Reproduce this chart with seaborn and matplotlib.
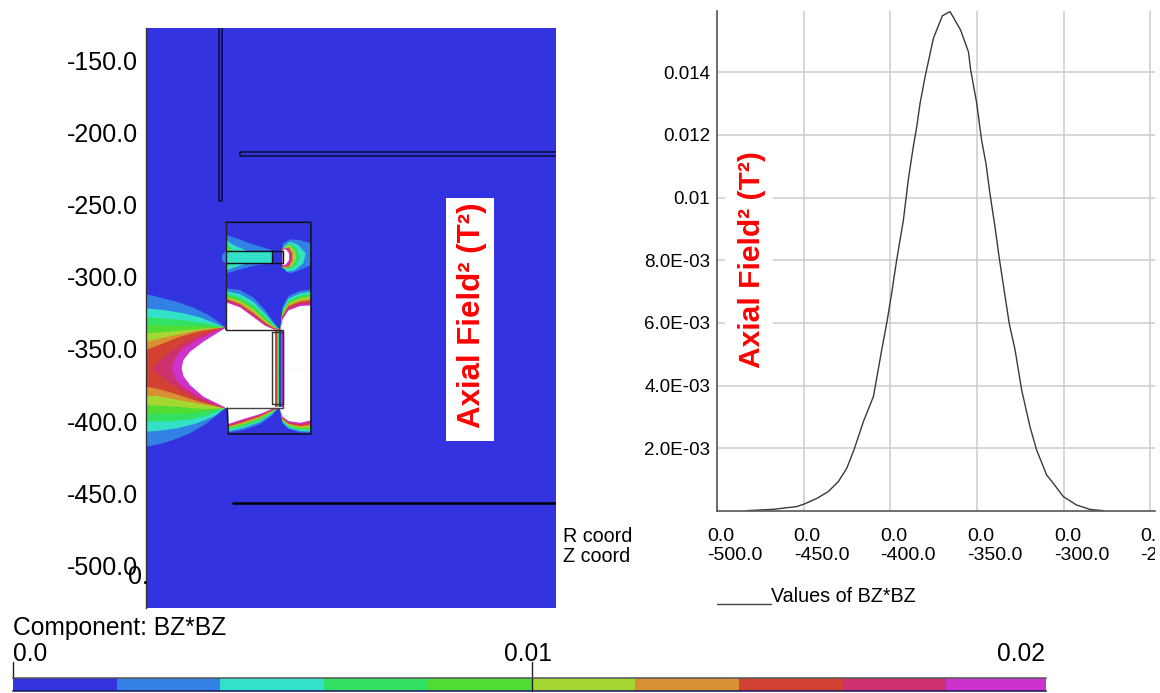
import numpy as np
import matplotlib
matplotlib.use('Agg')
import matplotlib.pyplot as plt
from matplotlib.colors import ListedColormap
import pandas as pd
import seaborn as sns

# Colour map of the field solver: 10 bands, white above the top of the scale
FIELD_COLORS = ['#3333e0', '#3282e6', '#32e1c8', '#32e164', '#50dc32', '#a5d732',
                '#d79132', '#d24132', '#cd326e', '#cd32cd', '#ffffff']
BAR_BANDS = list(range(10))

# Tick values
Z_TICKS = [-150, -200, -250, -300, -350, -400, -450, -500]
LINE_X_TICKS = [-500, -450, -400, -350, -300, -250]
LINE_Y_TICKS = [0.002, 0.004, 0.006, 0.008, 0.01, 0.012, 0.014]
LINE_Y_LABELS = ['2.0E-03', '4.0E-03', '6.0E-03', '8.0E-03', '0.01', '0.012', '0.014']

# Line plot on the axis
Z_COORD = [-482.9, -467.5, -454.1, -449.8, -442.5, -435.8, -430, -425.2, -421, -415.6,
           -409.8, -405, -401.8, -399.3, -396.4, -392.5, -389.7, -386.8, -384.8, -382.9,
           -380, -375.2, -370, -365.6, -359.5, -355, -353.7, -350.2, -347.4, -344.9,
           -342.6, -339.7, -337.2, -331.5, -328.1, -324.3, -319.5, -315.7, -309.9, -306,
           -300.3, -292.6, -284.9, -277.2]
BZ_SQUARED = [1e-5, 5.4e-5, 1.4e-4, 2.2e-4, 4.0e-4, 6.2e-4, 9.4e-4, 1.36e-3, 1.95e-3, 2.85e-3,
              3.65e-3, 5.14e-3, 6.09e-3, 6.94e-3, 8.0e-3, 9.28e-3, 1.056e-2, 1.162e-2, 1.226e-2, 1.30e-2,
              1.385e-2, 1.508e-2, 1.58e-2, 1.593e-2, 1.534e-2, 1.465e-2, 1.407e-2, 1.30e-2, 1.183e-2, 1.109e-2,
              1.013e-2, 9.07e-3, 8.06e-3, 5.99e-3, 5.14e-3, 3.86e-3, 2.69e-3, 1.95e-3, 1.15e-3, 8.8e-4,
              4.6e-4, 1.9e-4, 5e-5, 1e-5]

# Field map: band outlines in (r, z), level = index in FIELD_COLORS
# Large lobe on the axis, outermost band first
AXIS_LOBE = [
    (1, [0, 9.7, 21.2, 32.8, 42, 50.1, 54.7, 54.7, 50.1, 42, 30.5, 18.9, 9.7, 0],
     [-312.1, -314.4, -317.4, -321.5, -325.9, -331.2, -335.1, -391.2, -395.2, -401.6, -408.5, -413.1, -415.9, -417.8]),
    (2, [0, 12, 25.9, 37.4, 47.8, 54.7, 54.7, 46.6, 35.1, 21.2, 9.7, 0],
     [-322, -323.1, -325.4, -328.2, -332.4, -335.1, -391.2, -397, -401.6, -405.1, -406.7, -407.4]),
    (3, [0, 14.3, 28.2, 42, 54.7, 54.7, 42, 28.2, 14.3, 0],
     [-328.2, -329.1, -330.5, -332.4, -335.1, -391.2, -396.5, -399.3, -400.5, -400.5]),
    (4, [0, 16.6, 35.1, 54.7, 54.7, 39.7, 23.5, 9.7, 0],
     [-333.5, -334, -334, -335.1, -391.2, -393.8, -395.2, -395.2, -394.7]),
    (5, [0, 12, 28.2, 42, 54.7, 54.7, 39.7, 21.2, 7.4, 0],
     [-339.3, -338.4, -337, -335.8, -335.1, -391.2, -391.7, -390.1, -389.4, -388.9]),
    (6, [0, 12, 25.9, 39.7, 54.7, 54.7, 35.1, 18.9, 7.4, 0],
     [-345.1, -342.3, -339.3, -336.5, -335.1, -391.2, -387.8, -384.8, -382.7, -382.7]),
    (7, [0, 12, 23.5, 36.2, 54.7, 54.7, 35.1, 21.2, 9.7, 0],
     [-350.8, -346.2, -341.6, -338.1, -335.1, -391.2, -386.1, -381.5, -378.1, -376.2]),
    (8, [3.9, 16.6, 25.9, 37.4, 54.7, 54.7, 37.4, 25.9, 16.6],
     [-363.5, -352, -346.2, -340.5, -335.1, -391.2, -385.5, -379.7, -373.9]),
    (9, [17.8, 20.1, 25.9, 37.4, 54.7, 54.7, 37.4, 25.9, 20.1],
     [-363.5, -356.6, -349.7, -342.8, -335.1, -391.2, -383.6, -376.2, -370.5]),
    (10, [24.7, 25.9, 30.5, 39.7, 54.7, 54.7, 39.7, 30.5, 25.9],
     [-363.5, -357.8, -352, -345.1, -335.8, -390.5, -383.1, -375.1, -368.8]),
]

# Four wedges round the pole gap: one row of z per band, at the stations in *_R
WEDGE_A_R = [55.4, 65.1, 74.3, 82.4, 88.2, 92.3]
WEDGE_A_Z = [[-308.1, -309.3, -314.4, -323.1, -331.2, -336.5],
             [-310, -312.1, -317.4, -325.4, -332.4, -336.5],
             [-311.6, -314.4, -319.7, -327.3, -333.3, -336.5],
             [-312.8, -315.8, -321.3, -328.9, -334, -336.5],
             [-313.9, -316.9, -322.7, -330.1, -334.7, -336.5],
             [-314.8, -318.1, -324.1, -331, -335.1, -336.5],
             [-315.5, -319, -325.4, -331.9, -335.6, -336.5],
             [-316.2, -319.7, -326.4, -332.6, -335.8, -336.8],
             [-316.9, -320.4, -327.1, -333.3, -336.1, -336.8],
             [-317.8, -321.3, -328, -334, -336.5, -337]]
WEDGE_B_R = [93.2, 94.6, 98.6, 106.6, 114.2]
WEDGE_B_Z = [[-333.5, -320.8, -313.4, -310, -308.8],
             [-334.2, -322.7, -315.3, -311.6, -310.4],
             [-334.7, -323.8, -316.7, -313, -311.6],
             [-335.1, -324.8, -317.8, -314.1, -313],
             [-335.4, -325.7, -318.8, -315.1, -314.1],
             [-335.6, -326.6, -319.7, -316.2, -315.3],
             [-335.8, -327.3, -320.6, -317.4, -316.4],
             [-336.1, -328, -321.5, -318.3, -317.6],
             [-336.3, -328.7, -322.4, -319.2, -318.8],
             [-336.5, -329.6, -323.4, -320.4, -319.9]]
WEDGE_C_R = [56.3, 67.4, 78.9, 87, 91.4]
WEDGE_C_Z = [[-408.1, -406.2, -402.3, -396.5, -391],
             [-407.2, -404.8, -400.7, -395.4, -391],
             [-406.2, -403.7, -399.8, -394.7, -391],
             [-405.5, -402.8, -398.8, -394.2, -391],
             [-404.8, -402.1, -398.1, -393.8, -391],
             [-404.4, -401.4, -397.5, -393.3, -391],
             [-403.9, -400.7, -396.8, -392.8, -391],
             [-403.5, -400.2, -396.3, -392.6, -391],
             [-403, -399.5, -395.8, -392.2, -391],
             [-402.3, -398.6, -395.2, -391.7, -391]]
WEDGE_D_R = [92.8, 94.6, 98.6, 106.6, 114.2]
WEDGE_D_Z = [[-391.7, -401.6, -405.5, -407.8, -408.1],
             [-391.7, -400.9, -404.6, -406.9, -407.2],
             [-391.7, -400.2, -403.9, -406.2, -406.2],
             [-391.7, -399.8, -403.2, -405.5, -405.3],
             [-391.7, -399.3, -402.8, -404.8, -404.4],
             [-391.7, -398.8, -402.3, -404.2, -403.5],
             [-391.7, -398.4, -401.8, -403.5, -402.5],
             [-391.7, -397.9, -401.4, -402.8, -401.6],
             [-391.7, -397.5, -400.9, -402.1, -400.7],
             [-391.7, -397, -400, -401.2, -399.5]]

# Thin column of bands inside the coil box
STRIP_R = [89.3, 90.3, 90.9, 92.1, 93.7, 94.6]
STRIP_LEVELS = [9, 7, 3, 0, 9]

# Small lobes round the upper ring and its hot spot
RING_LOBES = [
    (1, [55.4, 62.8, 72, 87, 87, 55.4], [-271.2, -273.5, -277, -281.6, -282.1, -282.1]),
    (2, [55.4, 60.5, 69.7, 55.4], [-274.7, -278.1, -282.1, -282.1]),
    (3, [55.4, 58.2, 61.6, 55.4], [-275.8, -279.3, -282.1, -282.1]),
    (5, [55.4, 57.7, 55.4], [-278.1, -282.1, -282.1]),
    (7, [55.4, 56.3, 55.4], [-280.4, -282.1, -282.1]),
    (1, [55.4, 65.1, 76.6, 87, 55.4], [-297.8, -295, -292, -290.8, -290.8]),
    (2, [55.4, 61.6, 69.7, 55.4], [-295.4, -293.6, -290.8, -290.8]),
    (3, [55.4, 58.6, 61.6, 55.4], [-293.6, -292, -290.8, -290.8]),
    (5, [55.4, 57.2, 55.4], [-292, -290.8, -290.8]),
    (1, [55.4, 52.6, 52.6, 55.4], [-282.1, -285, -288.5, -290.8]),
    (2, [55.4, 87.5, 87.5, 55.4], [-282.3, -282.3, -290.8, -290.8]),
    (1, [94.6, 99.7, 106.6, 114.2, 114.2, 106.6, 99.7, 95.1],
     [-277, -274.2, -274.7, -277, -292, -295.4, -297.8, -294.3]),
    (2, [95.1, 99.7, 105.5, 110.6, 108.9, 103.2, 97.4, 94.6],
     [-279.3, -275.8, -278.1, -283.9, -290.8, -295.4, -296.6, -293.1]),
    (3, [95.1, 99.7, 104.3, 106.6, 104.3, 98.6, 94.6],
     [-279.7, -277, -280.4, -286.2, -292, -295.4, -293.6]),
    (5, [94.6, 99.7, 103.2, 103.9, 100.9, 94.6], [-280.4, -278.1, -282.8, -287.4, -293.1, -294.3]),
    (6, [94.6, 99.3, 102, 102, 99.3, 94.6], [-280.7, -279.3, -283.9, -288.5, -293.6, -293.6]),
    (7, [94.6, 98.8, 101.1, 101.1, 98.6, 94.6], [-281.1, -280, -283.9, -289, -293.1, -293.1]),
    (9, [94.6, 98.1, 100.2, 100.2, 97.9, 94.6], [-281.1, -280.4, -283.9, -289, -292.7, -292.7]),
    (10, [94.6, 96.9, 99, 99, 96.9, 94.6], [-281.6, -281.1, -283.9, -288.5, -291.5, -292]),
]

# Geometry outlines
YOKE_R = [55.2, 114.2, 114.2, 57, 56.3]
YOKE_Z = [-262.4, -262.4, -409, -409, -391]
POLE_R = [55.2, 55.2, 94.6, 94.6, 56.3]
POLE_Z = [-262.4, -337, -337, -390.8, -390.8]
COIL_R = [87.5, 94.6, 94.6, 87.5, 87.5]
COIL_Z = [-338.6, -338.6, -388.5, -388.5, -338.6]
RING_R = [55.2, 94.6, 94.6, 55.2]
RING_Z = [-282.3, -282.3, -290.8, -290.8]
RING_DIV_R = [87.5, 87.5]
RING_DIV_Z = [-282.3, -290.8]
PIPE_R = [50.6, 50.6, 52.8, 52.8]
PIPE_Z = [-127.8, -247.6, -247.6, -127.8]
SHELF_R = [284, 65.1, 65.1, 284]
SHELF_Z = [-213.9, -213.9, -216.3, -216.3]
FLOOR_R = [60, 284]
FLOOR_Z = [-456.6, -456.6]

W, H = 1160, 693
FONT = 'Liberation Sans'

sns.set_theme(style='white')
plt.rcParams['font.family'] = [FONT, 'DejaVu Sans']
plt.rcParams['text.color'] = 'black'
plt.rcParams['xtick.color'] = 'black'
plt.rcParams['ytick.color'] = 'black'


def px_axes(fig, x0, y0, x1, y1):
    return fig.add_axes([x0 / W, 1 - y1 / H, (x1 - x0) / W, (y1 - y0) / H])


def put(fig, x, y, s, **kw):
    kw.setdefault('va', 'center')
    return fig.text(x / W, 1 - y / H, s, **kw)


def fill_wedge(ax, rs, rows, close_z):
    for level, zs in enumerate(rows, 1):
        ax.fill(rs + [rs[-1], rs[0]], zs + [close_z, close_z], color=FIELD_COLORS[level], lw=0)


fig = plt.figure(figsize=(W / 100, H / 100), dpi=100)

# Field map
ax = px_axes(fig, 146, 28, 556, 608)
ax.set_facecolor(FIELD_COLORS[0])
ax.set_xlim(0, 283.9)
ax.set_ylim(-529.5, -127.8)
for level, rs, zs in AXIS_LOBE:
    ax.fill(rs, zs, color=FIELD_COLORS[level], lw=0)
fill_wedge(ax, WEDGE_A_R, WEDGE_A_Z, -337.5)
fill_wedge(ax, WEDGE_B_R, WEDGE_B_Z, -364)
fill_wedge(ax, WEDGE_C_R, WEDGE_C_Z, -390.5)
fill_wedge(ax, WEDGE_D_R, WEDGE_D_Z, -364)
ax.fill([54.7, 94.6, 94.6, 54.7], [-337, -337, -390.8, -390.8], color='white', lw=0)
for i, level in enumerate(STRIP_LEVELS):
    ax.fill([STRIP_R[i], STRIP_R[i + 1], STRIP_R[i + 1], STRIP_R[i]],
            [-337.5, -337.5, -390.5, -390.5], color=FIELD_COLORS[level], lw=0)
for level, rs, zs in RING_LOBES:
    ax.fill(rs, zs, color=FIELD_COLORS[level], lw=0)

ax.plot(YOKE_R, YOKE_Z, color='#111111', lw=1.1)
ax.plot(POLE_R[:3], POLE_Z[:3], color='#222222', lw=1.0)
ax.plot(POLE_R[2:], POLE_Z[2:], color='#444444', lw=1.0)
ax.plot(COIL_R, COIL_Z, color='#333333', lw=1.0)
ax.plot(RING_R, RING_Z, color='#111111', lw=1.0)
ax.plot(RING_DIV_R, RING_DIV_Z, color='#111111', lw=1.0)
ax.plot(PIPE_R, PIPE_Z, color='#0c0c30', lw=1.1)
ax.plot(SHELF_R, SHELF_Z, color='#0c0c30', lw=1.1)
ax.plot(FLOOR_R, FLOOR_Z, color='black', lw=1.8)

ax.set_xticks([])
ax.set_yticks(Z_TICKS)
ax.set_yticklabels(['%.1f' % v for v in Z_TICKS], fontsize=18)
ax.tick_params(axis='y', length=0, pad=5.5)
for side in ['top', 'right', 'bottom']:
    ax.spines[side].set_visible(False)
ax.spines['left'].set_color('#333333')
ax.spines['left'].set_linewidth(1.0)

put(fig, 128, 577, '0.', fontsize=18, ha='left')
fig.patches.append(plt.Rectangle((446 / W, 1 - 441 / H), 48 / W, 243 / H, transform=fig.transFigure,
                                 facecolor='white', edgecolor='none', zorder=4))
put(fig, 472, 315.5, 'Axial Field\u00b2 (T\u00b2)', fontsize=22.5, fontweight='bold', color='red',
    rotation=90, ha='center', zorder=5)

# Line plot
line_df = pd.DataFrame({'z': Z_COORD, 'bz2': BZ_SQUARED})
ax2 = px_axes(fig, 717, 11, 1155, 511)
sns.lineplot(data=line_df, x='z', y='bz2', ax=ax2, color='#3a3a3a', lw=1.0, estimator=None)
ax2.set_xlim(-500, -247.4)
ax2.set_ylim(0, 0.01595)
ax2.set_xlabel('')
ax2.set_ylabel('')
ax2.set_xticks(LINE_X_TICKS)
ax2.set_xticklabels([])
# the coordinate labels start a little left of their grid line
for v in LINE_X_TICKS:
    ax2.annotate('0.0\n%.1f' % v, xy=(v, 0), xycoords=('data', 'axes fraction'),
                 xytext=(-10, -17), textcoords='offset pixels', ha='left', va='top',
                 fontsize=14, linespacing=1.17, annotation_clip=False)
ax2.set_yticks(LINE_Y_TICKS)
ax2.set_yticklabels(LINE_Y_LABELS, fontsize=13.5)
ax2.tick_params(axis='both', length=0)
ax2.tick_params(axis='y', pad=5)
ax2.grid(True, color='#cccccc', lw=1.1)
ax2.set_axisbelow(True)
for side in ['top', 'right']:
    ax2.spines[side].set_visible(False)
for side in ['left', 'bottom']:
    ax2.spines[side].set_color('#555555')
    ax2.spines[side].set_linewidth(1.2)

fig.patches.append(plt.Rectangle((725 / W, 1 - 370 / H), 48 / W, 223 / H, transform=fig.transFigure,
                                 facecolor='white', edgecolor='none', zorder=4))
put(fig, 752, 259.5, 'Axial Field\u00b2 (T\u00b2)', fontsize=21.6, fontweight='bold', color='red',
    rotation=90, ha='center', zorder=5)
# the last coordinate label runs off the right edge of the original panel
fig.patches.append(plt.Rectangle((1155 / W, 1 - 575 / H), 5 / W, 55 / H, transform=fig.transFigure,
                                 facecolor='white', edgecolor='none', zorder=4))

put(fig, 563, 536.5, 'R coord', fontsize=14.2, ha='left')
put(fig, 563, 556.5, 'Z coord', fontsize=14.2, ha='left')
put(fig, 771, 597, 'Values of BZ*BZ', fontsize=14.2, ha='left')
fig.add_artist(plt.Line2D([717 / W, 771 / W], [1 - 604 / H, 1 - 604 / H], color='#444444', lw=1.0))

# Colour scale
put(fig, 13, 628, 'Component: BZ*BZ', fontsize=17.7, ha='left')
put(fig, 13, 654, '0.0', fontsize=17.7, ha='left')
put(fig, 528, 654, '0.01', fontsize=17.7, ha='center')
put(fig, 1045, 654, '0.02', fontsize=17.7, ha='right')

cax = px_axes(fig, 13, 678, 1046, 691)
sns.heatmap(np.array([BAR_BANDS]), cmap=ListedColormap(FIELD_COLORS[:10]), cbar=False, ax=cax,
            xticklabels=False, yticklabels=False)
cax.set_xlim(0, 9.96)
cax.plot([0, 0], [-1.2, 0], color='#222222', lw=1.0, clip_on=False)
cax.plot([5, 5], [-1.2, 1], color='#222222', lw=1.0, clip_on=False)
for side in ['top', 'bottom']:
    cax.spines[side].set_visible(True)
    cax.spines[side].set_linewidth(1.1)
cax.spines['top'].set_color('#555555')
cax.spines['bottom'].set_color('#14145a')

fig.savefig('out.png', dpi=100)
